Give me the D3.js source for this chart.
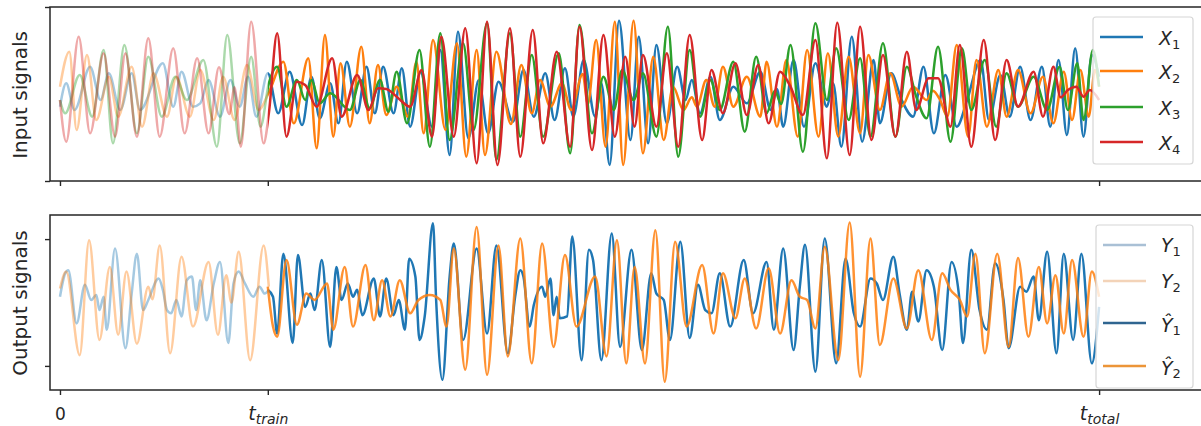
<!DOCTYPE html>
<html><head><meta charset="utf-8">
<script src="https://cdn.jsdelivr.net/npm/d3@7"></script>
<style>
body{margin:0;background:#fff}
svg{display:block}
text{font-family:"DejaVu Sans",sans-serif;fill:#262626}
</style>
</head><body>
<svg id="chart" width="1201" height="426"></svg>
<script>
// ---------------- data ----------------
const tTrain = 200, tTotal = 1000;
const xTickValues = [0, 200, 1000];
const xTickLabels = [{main:"0"}, {main:"t", sub:"train"}, {main:"t", sub:"total"}];
const yTicksTop = [-26.1, 26.1];
const yTicksBottom = [-10, 10];

// input signals [t, value]
const X1 = [[0,-3.8],[6,3.2],[14,-4.8],[29,8.2],[39,-1.8],[47,6.2],[58,-4.8],[69,6.2],[77,-4.8],[99,9.2],[109,-3.8],[117,6.7],[128,-3.8],[135,-2.8],[143,4.2],[154,-6.8],[164,4.2],[173,-3.8],[181,5.2],[189,-6.8],[200,6.2],[210,-5.8],[221,6.7],[233,-9.3],[242,5.2],[250,-7.3],[260,3.2],[268,-8.8],[276,9.7],[286,-5.8],[295,8.2],[303,-5.8],[311,8.2],[321,-5.8],[329,7.7],[337,-9.8],[347,6.7],[358,-9.8],[366,13.2],[375,-18.3],[383,18.7],[393,-13.3],[403,4.2],[412,-11.8],[422,3.7],[436,-8.3],[446,7.2],[456,-6.8],[467,6.2],[476,-7.8],[486,7.7],[494,-6.8],[504,10.2],[515,-6.8],[521,3.2],[529,-21.3],[538,22],[549,-13.8],[557,17.2],[566,-14.8],[574,14.7],[584,-8.8],[594,8.2],[602,-1.8],[608,4.2],[616,-5.8],[626,5.2],[635,-7.8],[648,2.2],[661,-2.8],[674,6.7],[684,-4.8],[690,1.5],[696,-9.8],[706,10.2],[716,-9.8],[727,9.2],[738,-3.8],[744,3.2],[752,-15.8],[762,17.2],[772,-14.3],[783,10.2],[789,-8.8],[800,6.2],[810,-1.8],[821,-6.8],[831,8.2],[841,-11.8],[852,5.7],[863,-9.8],[873,-1.8],[886,10.2],[894,-7.8],[905,5.7],[914,-6.8],[924,8.2],[934,-7.8],[945,8.2],[953,-9.8],[961,10.2],[969,-12.3],[977,13.7],[985,-12.8],[993,11.7],[1000,5.2]];
const X2 = [[0,2.2],[9,12.7],[16,-10.8],[26,11.7],[35,-7.8],[47,5.2],[56,-6.8],[69,8.2],[79,-9.8],[90,6.2],[103,-6.8],[112,5.2],[125,-6.8],[135,7.2],[148,-7.8],[157,5.2],[168,-7.8],[180,8.7],[191,-4.8],[201,0.5],[215,9.7],[225,-8.8],[239,10.7],[247,-16.3],[255,17.7],[263,-12.8],[270,9.2],[279,-9.8],[290,14.2],[298,-8.8],[306,8.7],[314,-6.3],[324,2.2],[335,-6.8],[343,9.7],[350,-11.8],[359,16.2],[371,-10.8],[382,15.2],[391,-18.8],[401,13.2],[409,-18.3],[420,12.7],[434,-9],[444,8.7],[454,-5.8],[462,4.2],[472,-3.8],[483,3.2],[492,-4.8],[503,6],[508,-3],[516,16.2],[525,-15.8],[534,21.7],[542,-21.3],[552,22],[561,-17.8],[571,11.2],[581,-13.8],[590,2.2],[600,-4.8],[608,-1],[613,-3.8],[622,4.2],[630,-3.8],[638,8.2],[648,-3.8],[661,5.2],[674,-6.8],[680,9.7],[690,-9.8],[699,10.2],[710,-12.8],[719,13.2],[730,-12.8],[739,12.2],[749,-12.8],[759,11.2],[770,-11.8],[778,11.7],[789,-4.8],[799,6.2],[810,-3.8],[821,2.2],[834,-1.8],[840,1],[847,-1.8],[854,-6.8],[863,14.7],[874,-12.8],[882,10.2],[892,-9.8],[903,7.2],[911,-6.8],[922,7.2],[934,-5.8],[946,5.2],[956,-8.8],[966,6.7],[974,-7.8],[982,7.2],[990,-6.8],[996,7.2],[1000,2.2]];
const X3 = [[0,-1.8],[5,-5.8],[19,5.7],[31,-6.8],[42,13.2],[51,-14.8],[62,14.7],[74,-11.8],[85,11.2],[98,-6.8],[111,5.2],[122,-1.8],[138,10.2],[151,-15.8],[161,17.7],[173,-14.8],[184,11.2],[193,-9.8],[201,3.2],[209,8.2],[218,-3.8],[228,4.2],[236,-1.8],[242,4.2],[250,-2.8],[260,0.2],[279,-4.8],[289,4.2],[298,-4.3],[308,4.2],[316,-5.3],[324,6.7],[334,-8.8],[346,13.2],[356,-15.8],[366,18.2],[375,-13.8],[388,15.2],[398,-10.8],[411,21.2],[420,-19.8],[433,18.2],[443,-12.8],[454,11.7],[465,-12.8],[480,12.2],[491,-17.8],[500,20.7],[512,-11.8],[523,5.2],[533,-4.8],[541,7.2],[552,-1.8],[561,6.2],[574,-12.8],[585,20.2],[595,-18.8],[606,13.2],[616,-6.8],[626,4.2],[635,-4.8],[648,9.7],[659,-11.3],[670,11.2],[680,-5.8],[688,1],[694,-3],[703,14.7],[715,-17.3],[727,21.2],[738,-1.8],[747,13.7],[759,-7.8],[770,10.7],[780,-12.8],[792,15.2],[804,-12.8],[815,8.2],[824,-0.8],[834,-7.3],[845,14.2],[857,-14.3],[868,13.7],[877,-4.8],[890,10.2],[901,-9.8],[911,6.2],[922,-3.8],[937,5.2],[950,-4.8],[962,8.2],[970,-4.8],[979,9.2],[985,-7.8],[994,13.2],[1000,2.2]];
const X4 = [[0,-1.8],[6,-14.3],[18,17.2],[29,-11.8],[42,12.2],[53,-12.8],[63,12.2],[74,-12.8],[85,16.7],[96,-12.8],[109,13.7],[120,-11.8],[132,10.7],[143,-11.8],[153,8],[163,-6],[168,2],[174,-15.8],[184,21.7],[196,-14.8],[201,-5.8],[209,18.2],[218,-12.8],[228,3.7],[236,2.7],[247,-3.8],[262,10.7],[271,-6.8],[286,5.7],[297,-4.8],[306,1.7],[314,1.5],[324,-0.8],[337,-3.8],[348,7.2],[358,-12.8],[367,17.2],[379,-12.8],[390,19.7],[401,-20.8],[411,21.7],[421,-21.3],[433,19.7],[443,-18.8],[455,19.2],[465,-14.8],[478,12.7],[491,-15.8],[500,20.2],[512,-16.8],[523,17.7],[534,-12.8],[544,11.2],[553,-9.8],[561,11.7],[574,-9.8],[584,12.2],[595,-15.8],[606,17.7],[618,-13.8],[627,7.2],[638,-5.8],[650,9.2],[661,-6.3],[672,8.7],[682,-8.8],[693,6.7],[703,2.2],[715,-6.3],[727,16.2],[738,-19.3],[748,21.4],[760,-18.3],[770,20.2],[781,-13.8],[792,11.7],[804,-12.8],[815,12.7],[824,-4.8],[836,4.7],[845,4.7],[857,-9.8],[866,14.7],[877,-15.8],[889,16.2],[900,-13.8],[911,10.2],[922,-3.8],[937,6.7],[946,-6.8],[956,8.2],[963,-1],[970,1.2],[978,2.2],[985,-0.8],[991,1.2],[1000,-1.8]];

// output signals: true (training) and predicted (test)
const Y1 = [[0,0.9],[5,4.6],[8,5.1],[16,-3.3],[24,2.8],[30,0.4],[35,1.2],[38,-1.2],[42,0.9],[45,-4.3],[53,8.5],[63,-7.2],[69,1.4],[74,7.7],[80,-1.2],[85,0.4],[95,3.8],[99,2],[103,-1.2],[107,-1.7],[112,0.4],[117,-2.2],[122,3.5],[127,4.1],[131,-1.2],[135,3.5],[141,-2.8],[148,3],[154,6.4],[162,-6.4],[167,3],[172,4.9],[178,3],[186,0.9],[192,2.5],[197,1.4],[201,2]];
const Y2 = [[0,2.2],[6,4.9],[19,-8.3],[28,9.8],[38,-5.9],[48,5.6],[56,-5.1],[64,4.9],[74,-6.5],[85,2.5],[89,0.5],[96,9],[106,-8],[117,7.2],[128,-3.8],[143,6.4],[152,-5.1],[160,4.3],[165,0],[172,8],[183,-9.1],[196,9],[201,2.5]];
const Y1hat = [[200,2],[205,0.9],[209,-4.9],[215,7.7],[224,-6.4],[229,7.5],[236,-0.7],[241,1.4],[245,-1.2],[252,6.7],[260,-7],[266,5.6],[271,0.4],[277,3],[282,0.9],[286,2],[291,-2],[302,3.8],[308,-2.2],[314,3.8],[321,-2],[326,0.4],[332,-4.3],[336,6.9],[342,4.1],[346,-5.9],[351,-2.2],[359,12.5],[362,0.4],[368,-12.2],[375,4.1],[379,9.3],[388,-5.9],[401,8.5],[411,-4.9],[420,9],[431,-8],[438,0.9],[443,5.1],[446,4.1],[452,-3.8],[456,-0.4],[464,2.5],[467,0.9],[472,3.8],[475,-2],[478,0.9],[481,-2.5],[488,-2.2],[493,10.4],[502,-9.1],[509,8.3],[513,6.7],[521,-9.1],[531,10.9],[539,-7],[550,8.3],[560,-7.5],[569,4.6],[574,1.4],[581,0.4],[587,-5.9],[597,9.6],[606,-5.6],[614,2.8],[621,-1.2],[627,-1.7],[635,4.6],[645,-3.8],[658,6.7],[667,-1.7],[680,6.4],[687,-4.3],[696,8.5],[706,-7.5],[712,2.5],[717,9.1],[727,-10.9],[736,10.1],[747,-9.6],[756,6.9],[764,-1.7],[770,-3.8],[780,3.8],[786,3],[792,0.4],[802,7.2],[808,1.4],[815,-4.3],[820,1.7],[826,-3],[834,5.1],[841,2.5],[849,-7.5],[858,6.4],[865,1.4],[869,-6.4],[877,8.3],[885,-1.2],[892,-4.3],[900,6.2],[908,0.4],[913,-7.2],[924,2.5],[930,1.7],[937,4.1],[942,-2.8],[950,8],[959,-8],[966,7.7],[975,-5.9],[983,7.7],[993,-9.6],[1000,-0.7]];
const Y2hat = [[200,2.5],[205,-3.8],[209,-5.4],[218,6.7],[228,-3.5],[237,1.4],[245,0.4],[257,3],[263,-4.3],[274,5.6],[282,-3.8],[294,5.9],[302,-2.8],[310,3.5],[318,-2.2],[327,3.5],[337,-1.7],[345,0.4],[356,1.2],[366,0.4],[372,-3.8],[379,8.5],[390,-10.6],[401,11.9],[411,-11.4],[422,9],[431,-8.5],[443,10.1],[454,-9.6],[464,9.3],[475,-7],[486,7.5],[497,-3.8],[515,4.1],[526,-8.5],[536,9.8],[545,-9.6],[553,5.6],[563,-9.6],[573,11.4],[582,-12.5],[592,9.6],[603,-3.8],[618,5.9],[629,-4.9],[638,4.6],[650,-2.5],[659,3.8],[670,-4.1],[682,5.4],[693,-4.9],[704,3.5],[712,0.9],[719,0.4],[727,-4.1],[736,8.8],[749,-9.1],[760,12.6],[770,-11.7],[780,10.1],[789,-6.7],[802,3.8],[815,-4.1],[826,5.1],[839,-5.9],[849,4.6],[857,2],[866,0.4],[873,-2.2],[881,7.7],[890,-8],[902,7.7],[913,-7],[922,7],[932,-5.4],[942,5.6],[950,-3.3],[958,4.3],[966,-4.9],[974,6.7],[985,-5.4],[993,4.9],[1000,0.9]];

const inputNames = ["1","2","3","4"];
const inputColors = ["#1f77b4","#ff7f0e","#2ca02c","#d62728"];

// ---------------- drawing ----------------
const svg = d3.select("#chart");
const L = 50, R = 1203;
const P1 = {top:7, bottom:181}, P2 = {top:215, bottom:390};
const LW = 2.5;
const x = d3.scaleLinear().domain([-9.6, 1100]).range([L, R]);
const yTop = d3.scaleLinear().domain([-26.1, 26.1]).range([P1.bottom, P1.top]);
const yBot = d3.scaleLinear().domain([-13.8, 13.8]).range([P2.bottom, P2.top]);

const defs = svg.append("defs");
defs.append("clipPath").attr("id","clipTrain").append("rect")
  .attr("x",0).attr("y",0).attr("width",x(tTrain)).attr("height",426);
defs.append("clipPath").attr("id","clipTest").append("rect")
  .attr("x",x(tTrain)).attr("y",0).attr("width",1201-x(tTrain)).attr("height",426);

const lineTop = d3.line().x(d=>x(d[0])).y(d=>yTop(d[1])).curve(d3.curveMonotoneX);
const lineBot = d3.line().x(d=>x(d[0])).y(d=>yBot(d[1])).curve(d3.curveMonotoneX);

function path(g, data, gen, color, opacity, clip){
  const p = g.append("path").datum(data).attr("d", gen)
    .attr("fill","none").attr("stroke",color).attr("stroke-width",LW)
    .attr("stroke-opacity",opacity).attr("stroke-linejoin","round");
  if (clip) p.attr("clip-path", `url(#${clip})`);
  return p;
}

// top panel
const gTop = svg.append("g");
[X1,X2,X3,X4].forEach((s,i)=> path(gTop, s, lineTop, inputColors[i], 0.4, "clipTrain"));
[X1,X2,X3,X4].forEach((s,i)=> path(gTop, s, lineTop, inputColors[i], 1, "clipTest"));

// bottom panel
const gBot = svg.append("g");
path(gBot, Y1, lineBot, "#1f77b4", 0.4);
path(gBot, Y2, lineBot, "#ff7f0e", 0.4);
path(gBot, Y1hat, lineBot, "#1f77b4", 1);
path(gBot, Y2hat, lineBot, "#ff7f0e", 0.85);

// frames
const frameColor = "#262626";
[P1,P2].forEach(p=>{
  svg.append("rect").attr("x",L).attr("y",p.top).attr("width",R-L).attr("height",p.bottom-p.top)
    .attr("fill","none").attr("stroke",frameColor).attr("stroke-width",1.5);
});

function styleAxis(g){
  g.select(".domain").remove();
  g.selectAll(".tick line").attr("stroke",frameColor).attr("stroke-width",1.4);
}
svg.append("g").attr("transform",`translate(0,${P1.bottom})`)
  .call(d3.axisBottom(x).tickValues(xTickValues).tickSize(5).tickFormat("")).call(styleAxis);
svg.append("g").attr("transform",`translate(${L},0)`)
  .call(d3.axisLeft(yTop).tickValues(yTicksTop).tickSize(5).tickFormat("")).call(styleAxis);
svg.append("g").attr("transform",`translate(${L},0)`)
  .call(d3.axisLeft(yBot).tickValues(yTicksBottom).tickSize(5).tickFormat("")).call(styleAxis);
const xAxB = svg.append("g").attr("transform",`translate(0,${P2.bottom})`)
  .call(d3.axisBottom(x).tickValues(xTickValues).tickSize(5).tickFormat("")).call(styleAxis);
xAxB.selectAll(".tick").each(function(d,i){
  const lab = xTickLabels[i];
  const t = d3.select(this).append("text").attr("text-anchor","middle").attr("fill","#262626").attr("stroke","none");
  if (!lab.sub){
    t.attr("y",30).attr("font-size",17).text(lab.main);
  } else {
    t.attr("y",30).attr("font-size",19);
    t.append("tspan").attr("font-style","italic").text(lab.main);
    t.append("tspan").attr("font-style","italic").attr("font-size",14).attr("dy",3.5).text(lab.sub);
  }
});

// axis titles
svg.append("text").attr("transform",`translate(27,95) rotate(-90)`).attr("text-anchor","middle")
  .attr("font-size",20).text("Input signals");
svg.append("text").attr("transform",`translate(27,303) rotate(-90)`).attr("text-anchor","middle")
  .attr("font-size",20).text("Output signals");

// legends
function legend(box, items){
  const g = svg.append("g");
  g.append("rect").attr("x",box.x).attr("y",box.y).attr("width",box.w).attr("height",box.h)
    .attr("rx",3).attr("fill","#fff").attr("fill-opacity",0.8).attr("stroke","#d6d6d6").attr("stroke-width",1.2);
  items.forEach(it=>{
    g.append("line").attr("x1",box.lx1).attr("x2",box.lx2).attr("y1",it.y).attr("y2",it.y)
      .attr("stroke",it.color).attr("stroke-width",2.6);
    const t = g.append("text").attr("x",box.tx).attr("y",it.y+it.off).attr("font-size",19);
    t.append("tspan").attr("font-style","italic").text(it.main);
    t.append("tspan").attr("font-size",13).attr("dy",3.5).text(it.sub);
  });
}
legend({x:1093,y:17,w:100,h:147,lx1:1100,lx2:1143,tx:1159},
  inputNames.map((n,i)=>({main:"X",sub:n,color:inputColors[i],y:[37,71,107,142][i],off:8})));
legend({x:1096,y:225,w:97,h:163,lx1:1103,lx2:1146,tx:1161},
  [{main:"Y",sub:"1",color:"#a9c0d5",y:245,off:7},
   {main:"Y",sub:"2",color:"#f3d3b8",y:281,off:7},
   {main:"\u0176",sub:"1",color:"#2f6590",y:323,off:8.5},
   {main:"\u0176",sub:"2",color:"#ec9538",y:366,off:8.5}]);
</script>
</body></html>
